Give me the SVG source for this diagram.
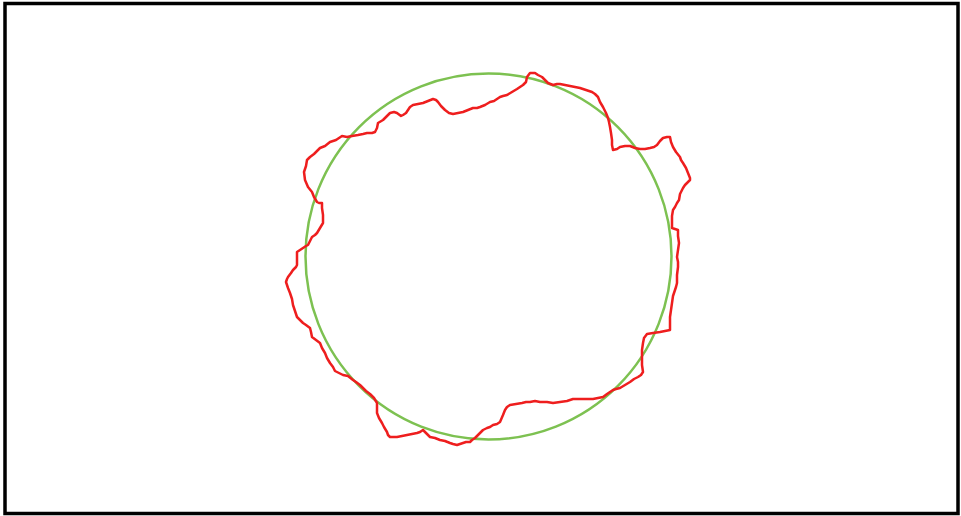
<svg xmlns="http://www.w3.org/2000/svg" width="961" height="516" viewBox="0 0 961 516">
<style>
.frame{fill:#fff;stroke:#000;stroke-width:3.5}
.circ{fill:none;stroke:#7DC151;stroke-width:2.5}
.walk{fill:none;stroke:#EE1E1E;stroke-width:2.5;stroke-linejoin:round}
</style>
<rect class="frame" x="5" y="3.5" width="953" height="510"/>
<g id="circle"><circle class="circ" cx="488.5" cy="256.5" r="183"/></g>
<g id="curve"><path class="walk" d="M305,180 L304,172 L306,166 L307,160 L310,157 L314,154 L320,148 L325,146 L330,142 L336,140 L342,136 L347,137 L352,136 L358,135 L363,134 L367,133 L372,133 L375,132 L377,128 L378,123 L383,120 L387,116 L390,113 L394,112 L397,113 L401,116 L403,115 L406,113 L408,110 L410,107 L413,105 L418,104 L423,103 L428,101 L433,99 L436,100 L438,102 L441,106 L445,110 L449,113 L453,114 L458,113 L463,112 L468,110 L473,108 L477,108 L480,107 L485,105 L490,102 L494,101 L500,97 L503,96 L507,95 L512,92 L517,89 L523,85 L526,82 L527,77 L530,73 L535,73 L538,75 L542,77 L545,80 L548,83 L553,85 L557,84 L560,84 L565,85 L570,86 L575,87 L580,88 L586,90 L592,92 L595,94 L598,97 L600,102 L603,107 L606,113 L608,118 L609,122 L610,127 L611,133 L612,140 L612,145 L613,150 L617,149 L620,147 L625,146 L630,146 L635,148 L640,149 L645,149 L650,148 L654,147 L657,145 L660,141 L663,138 L667,137 L670,137 L671,142 L673,147 L676,152 L680,157 L681,160 L683,163 L686,168 L688,173 L690,178 L690,180 L687,183 L685,185 L683,188 L682,190 L680,194 L679,200 L677,203 L675,207 L673,210 L672,216 L672,222 L672,228 L675,229 L678,230 L678,236 L679,243 L678,250 L677,257 L678,262 L678,267 L677,275 L677,283 L676,287 L675,290 L673,296 L672,303 L671,310 L670,317 L670,323 L670,330 L665,331 L660,332 L653,333 L647,334 L644,338 L643,343 L642,350 L642,357 L642,365 L643,372 L641,375 L638,377 L634,379 L630,382 L625,385 L620,388 L616,389 L613,390 L610,392 L607,394 L603,397 L598,398 L593,399 L587,399 L580,399 L573,399 L567,401 L560,402 L553,403 L547,402 L540,402 L535,401 L530,402 L526,402 L522,403 L516,404 L510,405 L507,407 L505,410 L503,415 L500,422 L497,424 L493,425 L490,427 L487,428 L483,430 L480,433 L477,436 L475,438 L472,440 L470,442 L466,442 L463,443 L460,444 L457,445 L453,444 L450,443 L445,441 L440,440 L435,438 L430,437 L426,433 L423,430 L420,432 L417,433 L412,434 L407,435 L402,436 L397,437 L393,437 L390,437 L388,435 L387,432 L384,427 L382,423 L379,418 L377,413 L377,408 L377,403 L374,398 L370,394 L366,391 L360,385 L356,382 L353,380 L348,376 L343,375 L339,373 L335,371 L333,367 L330,363 L327,358 L325,353 L322,348 L320,343 L316,340 L312,337 L311,332 L310,328 L306,325 L303,323 L300,320 L297,317 L295,311 L293,305 L292,299 L290,293 L288,288 L286,282 L287,279 L288,277 L291,273 L293,270 L296,267 L297,265 L297,258 L297,252 L300,250 L303,248 L306,246 L308,245 L310,241 L312,237 L315,235 L317,233 L320,228 L323,223 L323,215 L322,208 L322,203 L319,203 L317,202 L314,197 L312,192 L308,187 Z"/></g>
</svg>
